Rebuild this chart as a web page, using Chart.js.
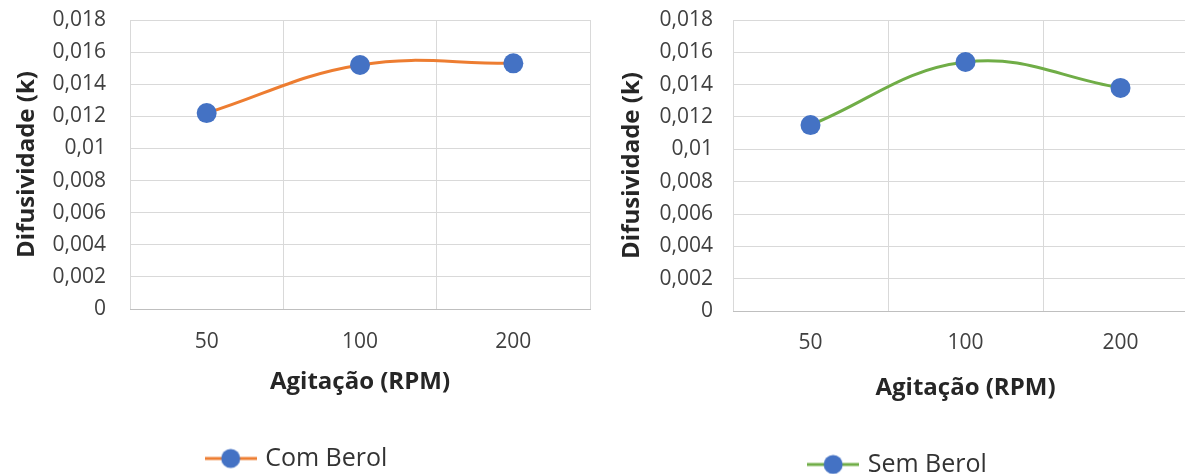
<!DOCTYPE html>
<html lang="pt">
<head>
    <meta charset="UTF-8">
    <title>Difusividade x Agitação</title>
    <script src="https://cdn.jsdelivr.net/npm/chart.js"></script>
    <style>
        html, body {
            margin: 0;
            padding: 0;
            width: 1185px;
            height: 474px;
            overflow: hidden;
            background: #ffffff;
        }
        .box {
            position: absolute;
            top: 0;
        }
        #boxCom { left: 0; width: 600px; height: 481px; }
        #boxSem { left: 600px; width: 630px; height: 487px; }
    </style>
</head>
<body>
    <div class="box" id="boxCom"><canvas id="chartCom"></canvas></div>
    <div class="box" id="boxSem"><canvas id="chartSem"></canvas></div>

    <script>
        // Dados
        const agitacao = ['50', '100', '200'];
        const comBerol = [0.0122, 0.0152, 0.0153];
        const semBerol = [0.0115, 0.0154, 0.0138];
        const yMin = 0;
        const yMax = 0.018;
        const yStep = 0.002;

        const azul = '#4472C4';
        const laranja = '#ED7D31';
        const verde = '#70AD47';
        const fonte = "'Open Sans', 'DejaVu Sans', sans-serif";

        // marcador da legenda estilo Excel (linha + bolinha)
        function marcador(cor) {
            const c = document.createElement('canvas');
            c.width = 52;
            c.height = 22;
            const g = c.getContext('2d');
            g.strokeStyle = cor;
            g.lineWidth = 3;
            g.beginPath();
            g.moveTo(0, 11);
            g.lineTo(52, 11);
            g.stroke();
            g.fillStyle = azul;
            g.beginPath();
            g.arc(26, 11, 9.5, 0, Math.PI * 2);
            g.fill();
            return c;
        }

        // formato "0,018", "0,01", "0"
        function formatar(v) {
            return String(parseFloat(v.toFixed(3))).replace('.', ',');
        }

        function criarGrafico(id, rotulo, valores, cor, cfg) {
            const ctx = document.getElementById(id).getContext('2d');
            return new Chart(ctx, {
                type: 'line',
                data: {
                    labels: agitacao,
                    datasets: [{
                        label: rotulo,
                        data: valores,
                        borderColor: cor,
                        backgroundColor: azul,
                        borderWidth: 3,
                        tension: 0.4,
                        pointRadius: 10,
                        pointHoverRadius: 10,
                        pointBackgroundColor: azul,
                        pointBorderColor: azul,
                        pointBorderWidth: 0,
                        pointStyle: 'circle'
                    }]
                },
                options: {
                    responsive: true,
                    maintainAspectRatio: false,
                    animation: false,
                    layout: {
                        padding: { top: cfg.top, right: cfg.right, bottom: 0, left: 0 }
                    },
                    plugins: {
                        tooltip: { enabled: false },
                        legend: {
                            position: 'bottom',
                            labels: {
                                usePointStyle: true,
                                pointStyle: marcador(cor),
                                pointStyleWidth: 44,
                                boxHeight: 22,
                                padding: 0,
                                color: '#333333',
                                font: { family: fonte, size: 25 }
                            }
                        }
                    },
                    scales: {
                        x: {
                            offset: true,
                            grid: {
                                offset: true,
                                drawTicks: false,
                                // sem linha na borda direita, como no original
                                color: function (c) { return c.index === agitacao.length ? 'rgba(0,0,0,0)' : '#d9d9d9'; }
                            },
                            border: { color: '#bfbfbf' },
                            ticks: { padding: cfg.xTickPad, color: '#404040', font: { family: fonte, size: 21 } },
                            title: {
                                display: true,
                                text: 'Agitação (RPM)',
                                color: '#262626',
                                padding: { top: 8, bottom: cfg.titleBottom },
                                font: { family: fonte, size: 24, weight: 'bold' }
                            },
                            afterFit: function (s) {
                                s.height = cfg.xHeight;
                                s.paddingLeft = 0;
                                s.paddingRight = 0;
                            }
                        },
                        y: {
                            min: yMin,
                            max: yMax,
                            grid: { color: '#d9d9d9', drawTicks: false },
                            border: { display: false },
                            ticks: {
                                stepSize: yStep,
                                padding: cfg.tickPad,
                                color: '#404040',
                                font: { family: fonte, size: 21 },
                                callback: function (v) { return formatar(v); }
                            },
                            title: {
                                display: true,
                                text: 'Difusividade (k)',
                                color: '#262626',
                                padding: { top: cfg.titleLeft, bottom: 0 },
                                font: { family: fonte, size: 24, weight: 'bold' }
                            },
                            afterFit: function (s) {
                                s.width = cfg.yWidth;
                                s.paddingTop = 0;
                                s.paddingBottom = 0;
                            }
                        }
                    }
                }
            });
        }

        criarGrafico('chartCom', 'Com Berol', comBerol, laranja,
            { top: 20, right: 4, xHeight: 137, titleBottom: 49, xTickPad: 20, yWidth: 130, tickPad: 24, titleLeft: 13 });
        criarGrafico('chartSem', 'Sem Berol', semBerol, verde,
            { top: 20, right: 32, xHeight: 141, titleBottom: 49, xTickPad: 19, yWidth: 133, tickPad: 20, titleLeft: 18 });
    </script>
</body>
</html>
